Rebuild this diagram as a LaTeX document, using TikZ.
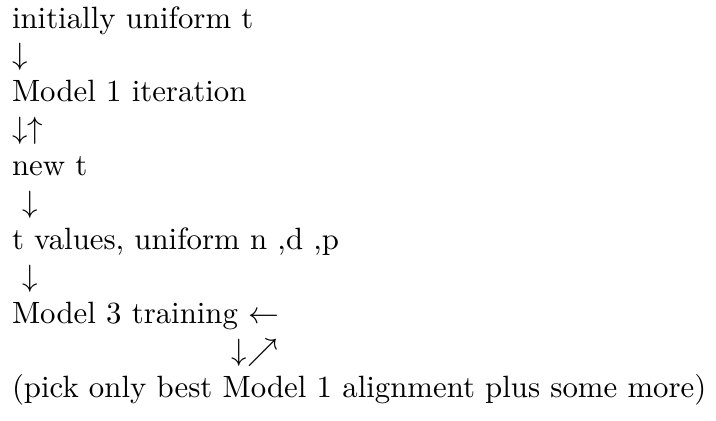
\documentclass[tikz,border=0pt]{standalone}
\begin{document}
\begin{tikzpicture}[x=1pt,y=1pt,
  line/.style={anchor=base west,inner sep=0pt,outer sep=0pt}]
\useasboundingbox (-3.9,-127.6) rectangle (228.6,9.1);
\node[line] (l1) at (0,0) {initially uniform t};
\node[line] (a1) at (0,-12) {$\downarrow$};
\node[line] (l2) at (0,-24) {Model 1 iteration};
\node[line] (a2) at (0,-36) {$\downarrow\uparrow$};
\node[line] (l3) at (0,-48) {new t};
\node[line] (a3) at (0,-60) {\ $\downarrow$};
\node[line] (l4) at (0,-72) {t values, uniform n ,d ,p};
\node[line] (a4) at (0,-84) {\ $\downarrow$};
\node[line] (l5) at (0,-96) {Model 3 training $\leftarrow$};
\node[line] (a5) at (71.4,-108) {$\downarrow\nearrow$};
\node[line] (l6) at (0,-120) {(pick only best Model 1 alignment plus some more)};
\end{tikzpicture}
\end{document}
